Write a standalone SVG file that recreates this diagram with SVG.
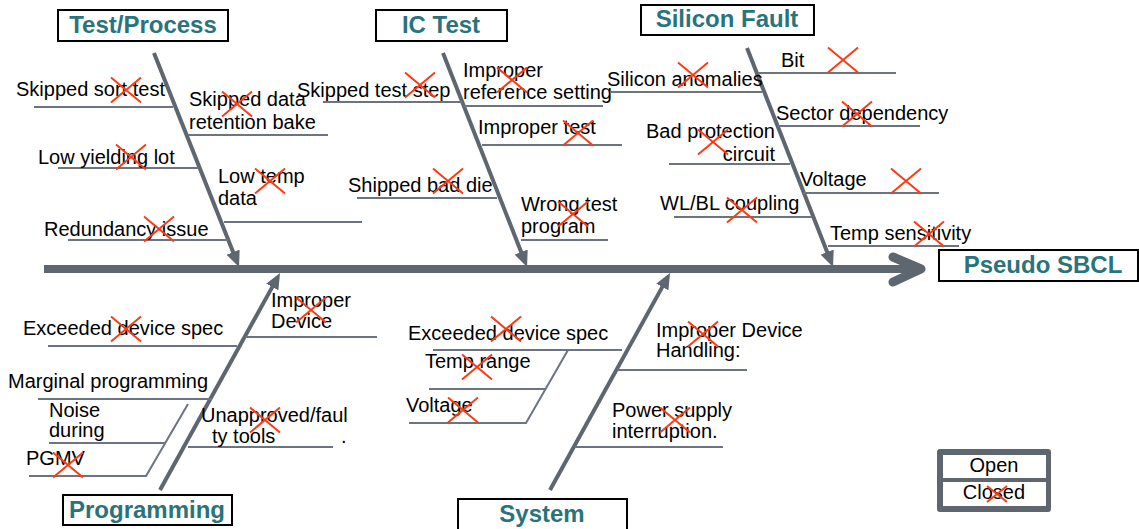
<svg xmlns="http://www.w3.org/2000/svg" xmlns:xlink="http://www.w3.org/1999/xlink" width="1139" height="529" viewBox="0 0 1139 529">
<style>
.t{font-family:"Liberation Sans",Arial,sans-serif;font-size:20px;fill:#000}
.h{font-family:"Liberation Sans",Arial,sans-serif;font-size:24px;font-weight:bold;fill:#2a737c;text-anchor:middle}
.box{fill:#fff;stroke:#000;stroke-width:2}
.bone{stroke:#5e6670;stroke-width:4;fill:none;marker-end:url(#ah)}
.sub{stroke:#6b7480;stroke-width:2;fill:none}
.x{stroke:#ff3a12;stroke-width:2;fill:none}
.lg{font-family:"Liberation Sans",Arial,sans-serif;font-size:20px;fill:#000;text-anchor:middle}
</style>
<defs>
<marker id="ah" markerUnits="userSpaceOnUse" markerWidth="16" markerHeight="14" viewBox="0 0 16 14" refX="11" refY="7" orient="auto">
<path d="M0,0 L16,7 L0,14 z" fill="#5e6670"/>
</marker>
<path id="xm" class="x" d="M-15,-12.5 L15,12.5 M-15,12.5 L15,-12.5"/>
<path id="xs" class="x" d="M-10,-8 L10,8 M-10,8 L10,-8"/>
</defs>
<rect width="1139" height="529" fill="#fff"/>

<g id="connectors">
<line x1="44" y1="269" x2="916" y2="269" stroke="#5e6670" stroke-width="8"/>
<polyline points="893,257 921,269 893,282" fill="none" stroke="#5e6670" stroke-width="9" stroke-linecap="round" stroke-linejoin="round"/>
<line class="bone" x1="154" y1="53" x2="237.2" y2="262.4"/>
<line class="bone" x1="443" y1="53" x2="525.2" y2="262.3"/>
<line class="bone" x1="747" y1="48" x2="831.2" y2="262.3"/>
<line class="bone" x1="160" y1="490" x2="277.6" y2="277.4"/>
<line class="bone" x1="550" y1="490" x2="667.6" y2="277.4"/>
</g>

<g id="node-head">
<rect class="box" x="939" y="250" width="199" height="31"/>
<text class="h" x="1043" y="273">Pseudo SBCL</text>
</g>

<g id="node-test-process">
<rect class="box" x="58" y="10" width="170" height="31"/>
<text class="h" x="143" y="33">Test/Process</text>
<g id="tp-causes">
<line class="sub" x1="34" y1="107" x2="173" y2="107"/>
<text class="t" x="16" y="96">Skipped sort test</text>
<use xlink:href="#xm" x="126" y="90"/>
<line class="sub" x1="188" y1="135" x2="328" y2="135"/>
<text class="t" x="189" y="106">Skipped data</text>
<text class="t" x="189" y="129">retention bake</text>
<use xlink:href="#xm" x="237" y="104"/>
<line class="sub" x1="58" y1="168" x2="199" y2="168"/>
<text class="t" x="38" y="164">Low yielding lot</text>
<use xlink:href="#xm" x="131" y="157"/>
<line class="sub" x1="224" y1="222" x2="362" y2="222"/>
<text class="t" x="218" y="183">Low temp</text>
<text class="t" x="218" y="205">data</text>
<use xlink:href="#xm" x="270" y="181"/>
<line class="sub" x1="68" y1="240" x2="228" y2="240"/>
<text class="t" x="44" y="236">Redundancy issue</text>
<use xlink:href="#xm" x="159" y="229"/>
</g>
</g>

<g id="node-ic-test">
<rect class="box" x="376" y="10" width="131" height="31"/>
<text class="h" x="441" y="33">IC Test</text>
<g id="ic-causes">
<line class="sub" x1="323" y1="102" x2="462" y2="102"/>
<text class="t" x="297" y="97">Skipped test step</text>
<use xlink:href="#xm" x="420" y="85"/>
<line class="sub" x1="463" y1="106" x2="603" y2="106"/>
<text class="t" x="463" y="77">Improper</text>
<text class="t" x="463" y="99">reference setting</text>
<use xlink:href="#xm" x="512" y="80"/>
<line class="sub" x1="482" y1="145" x2="622" y2="145"/>
<text class="t" x="478" y="134">Improper test</text>
<use xlink:href="#xm" x="578" y="133"/>
<line class="sub" x1="357" y1="198" x2="497" y2="198"/>
<text class="t" x="348" y="192">Shipped bad die</text>
<use xlink:href="#xm" x="448" y="181"/>
<line class="sub" x1="521" y1="240" x2="608" y2="240"/>
<text class="t" x="521" y="211">Wrong test</text>
<text class="t" x="521" y="233">program</text>
<use xlink:href="#xm" x="573" y="214"/>
</g>
</g>

<g id="node-silicon-fault">
<rect class="box" x="641" y="5" width="173" height="30"/>
<text class="h" x="727" y="27">Silicon Fault</text>
<g id="sf-causes">
<line class="sub" x1="758" y1="73" x2="896" y2="73"/>
<text class="t" x="781" y="67">Bit</text>
<use xlink:href="#xm" x="843" y="60"/>
<line class="sub" x1="610" y1="92" x2="762" y2="92"/>
<text class="t" x="607" y="86">Silicon anomalies</text>
<use xlink:href="#xm" x="693" y="75"/>
<line class="sub" x1="778" y1="126" x2="920" y2="126"/>
<text class="t" x="776" y="120">Sector dependency</text>
<use xlink:href="#xm" x="857" y="114"/>
<line class="sub" x1="669" y1="164" x2="790" y2="164"/>
<text class="t" x="775" y="138" text-anchor="end">Bad protection</text>
<text class="t" x="775" y="161" text-anchor="end">circuit</text>
<use xlink:href="#xm" x="713" y="142"/>
<line class="sub" x1="803" y1="193" x2="939" y2="193"/>
<text class="t" x="800" y="186">Voltage</text>
<use xlink:href="#xm" x="906" y="181"/>
<line class="sub" x1="674" y1="217" x2="812" y2="217"/>
<text class="t" x="660" y="210">WL/BL coupling</text>
<use xlink:href="#xm" x="742" y="210"/>
<line class="sub" x1="828" y1="246" x2="959" y2="246"/>
<text class="t" x="830" y="240">Temp sensitivity</text>
<use xlink:href="#xm" x="929" y="234"/>
</g>
</g>

<g id="node-programming">
<rect class="box" x="63" y="495" width="169" height="30"/>
<text class="h" x="147" y="518">Programming</text>
<g id="pg-causes">
<line class="sub" x1="48" y1="346" x2="237" y2="346"/>
<text class="t" x="23" y="335">Exceeded device spec</text>
<use xlink:href="#xm" x="126" y="329"/>
<line class="sub" x1="245" y1="337" x2="377" y2="337"/>
<text class="t" x="271" y="307">Improper</text>
<text class="t" x="271" y="328">Device</text>
<use xlink:href="#xm" x="311" y="310"/>
<line class="sub" x1="38" y1="399" x2="212" y2="399"/>
<text class="t" x="8" y="388">Marginal programming</text>
<line class="sub" x1="49" y1="443" x2="165" y2="443"/>
<text class="t" x="49" y="417">Noise</text>
<text class="t" x="49" y="437">during</text>
<polyline class="sub" points="188,404 146,476 29,476"/>
<text class="t" x="26" y="465">PGMV</text>
<use xlink:href="#xm" x="68" y="465"/>
<line class="sub" x1="188" y1="447" x2="333" y2="447"/>
<text class="t" x="201" y="422">Unapproved/faul</text>
<text class="t" x="212" y="443">ty tools</text>
<text class="t" x="341" y="443">.</text>
<use xlink:href="#xm" x="265" y="420"/>
</g>
</g>

<g id="node-system">
<rect class="box" x="458" y="499" width="169" height="32"/>
<text class="h" x="542" y="522">System</text>
<g id="sys-causes">
<line class="sub" x1="433" y1="350" x2="622" y2="350"/>
<text class="t" x="408" y="340">Exceeded device spec</text>
<use xlink:href="#xm" x="506" y="329"/>
<line class="sub" x1="429" y1="389" x2="546" y2="389"/>
<text class="t" x="425" y="368">Temp range</text>
<use xlink:href="#xm" x="477" y="367"/>
<polyline class="sub" points="568,350 526,423 409,423"/>
<text class="t" x="406" y="412">Voltage</text>
<use xlink:href="#xm" x="463" y="410"/>
<line class="sub" x1="617" y1="370" x2="747" y2="370"/>
<text class="t" x="656" y="337">Improper Device</text>
<text class="t" x="656" y="357">Handling:</text>
<use xlink:href="#xm" x="703" y="334"/>
<line class="sub" x1="575" y1="447" x2="723" y2="447"/>
<text class="t" x="612" y="417">Power supply</text>
<text class="t" x="612" y="438">interruption.</text>
<use xlink:href="#xm" x="675" y="420"/>
</g>
</g>

<g id="node-legend">
<rect x="937" y="449" width="114" height="63" rx="3" fill="#5e6670"/>
<rect x="943" y="455" width="103" height="23" fill="#fff"/>
<rect x="943" y="482" width="103" height="24" fill="#fff"/>
<text class="lg" x="994" y="472">Open</text>
<text class="lg" x="994" y="499">Closed</text>
<use xlink:href="#xs" x="997" y="494"/>
</g>
</svg>
